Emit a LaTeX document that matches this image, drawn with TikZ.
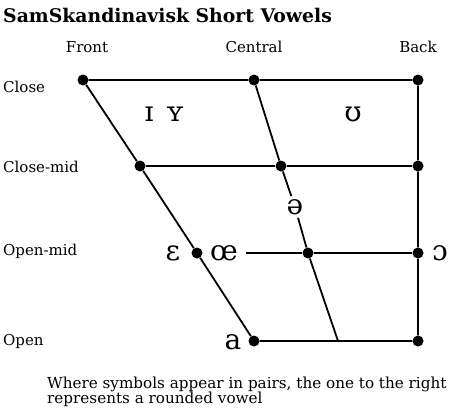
\documentclass[tikz,border=0pt]{standalone}
\usepackage{fontspec}
\setmainfont{DejaVu Serif}
\usetikzlibrary{positioning}

\begin{document}
\begin{tikzpicture}[x=1pt, y=-1pt,
    dot/.style={circle, fill=black, inner sep=0pt, minimum size=11pt},
    side/.style={font=\fontsize{15}{18}\selectfont, inner sep=0pt},
    vowel/.style={font=\fontsize{28}{30}\selectfont, inner sep=3pt},
    edge/.style={line width=1.8pt}
]
    \useasboundingbox (0,0) rectangle (450,416);
    \node[anchor=base west, inner sep=0pt, font=\bfseries\fontsize{18.8}{22}\selectfont] (title) at (3,22) {SamSkandinavisk Short Vowels};
    % column and row heads
    \node[side, anchor=base] (front) at (87,52) {Front};
    \node[side, anchor=base] (central) at (254,52) {Central};
    \node[side, anchor=base] (back) at (418,52) {Back};
    \node[side, anchor=west] (close) at (3,87) {Close};
    \node[side, anchor=west] (closemid) at (3,167) {Close-mid};
    \node[side, anchor=west] (openmid) at (3,251) {Open-mid};
    \node[side, anchor=west] (open) at (3,341) {Open};
    % corners of the chart
    \node[dot] (cf) at (83,80) {};
    \node[dot] (cc) at (254,80) {};
    \node[dot] (cb) at (418,80) {};
    \node[dot] (cmf) at (140,166) {};
    \node[dot] (cmc) at (281,166) {};
    \node[dot] (cmb) at (418,166) {};
    \node[dot] (omf) at (197,253) {};
    \node[dot] (omc) at (308,253) {};
    \node[dot] (omb) at (418,253) {};
    \node[dot] (of) at (254,341) {};
    \node[dot] (ob) at (418,341) {};
    \coordinate (oc) at (338,341);
    % vowels
    \node[vowel] (ih) at (149,114) {ɪ};
    \node[vowel] (yh) at (175,114) {ʏ};
    \node[vowel] (uh) at (353,114) {ʊ};
    \node[vowel] (schwa) at (295,207) {ə};
    \node[vowel] (eh) at (173,253) {ɛ};
    \node[vowel] (oe) at (224,253) {œ};
    \node[vowel] (oh) at (440,253) {ɔ};
    \node[vowel] (ah) at (233,342) {a};
    % lines
    \draw[edge] (cf) -- (cc) -- (cb) -- (cmb) -- (omb) -- (ob) -- (of) -- (omf) -- (cmf) -- (cf);
    \draw[edge] (cmf) -- (cmc) -- (cmb);
    \draw[edge, shorten <=5pt] (oe) -- (omc);
    \draw[edge] (omc) -- (omb);
    \draw[edge] (cc) -- (cmc) -- (schwa) -- (omc) -- (oc);
    \node[anchor=north west, align=left, inner sep=0pt, font=\fontsize{15.2}{15}\selectfont] (note) at (47,377)
        {Where symbols appear in pairs, the one to the right\\represents a rounded vowel};
\end{tikzpicture}
\end{document}
